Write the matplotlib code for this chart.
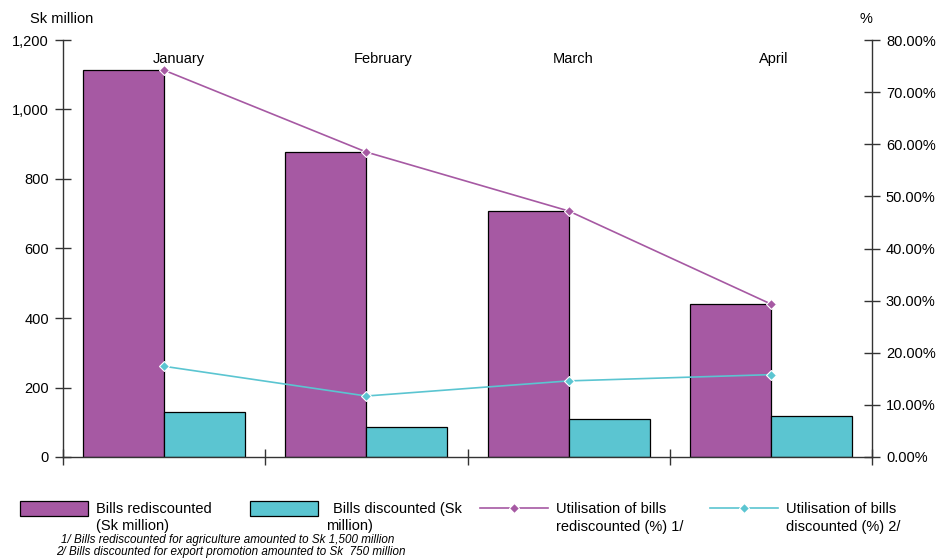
import matplotlib
matplotlib.use("Agg")
import matplotlib.pyplot as plt
from matplotlib.patches import Rectangle
from matplotlib.lines import Line2D
import numpy as np

plt.rcParams['font.family'] = ['Liberation Sans', 'DejaVu Sans']

months = ["January", "February", "March", "April"]
bills_rediscounted = [1113, 877, 708, 440]        # Sk million
bills_discounted = [130, 87, 109, 118]            # Sk million
util_rediscounted = [74.2, 58.5, 47.2, 29.35]      # %
util_discounted = [17.4, 11.7, 14.6, 15.8]         # %

left_ticks = [0, 200, 400, 600, 800, 1000, 1200]
right_ticks = [0, 10, 20, 30, 40, 50, 60, 70, 80]

purple = "#A659A3"
teal = "#5BC5D1"

fig = plt.figure(figsize=(9.39, 5.58), dpi=100)
ax = fig.add_axes([63/939, 1-457/558, (872-63)/939, (457-40)/558])
ax2 = ax.twinx()

x = np.arange(len(months))
w = 0.4
ax.bar(x + 0.3, bills_rediscounted, width=w, color=purple, edgecolor="black", linewidth=0.9, zorder=2)
ax.bar(x + 0.7, bills_discounted, width=w, color=teal, edgecolor="black", linewidth=0.9, zorder=2)

ax.set_xlim(0, 4)
ax.set_ylim(0, 1200)
ax.set_yticks(left_ticks)
ax.set_yticklabels([f"{v:,}" for v in left_ticks])
ax.set_xticks(np.arange(0, 5))
ax.set_xticklabels([])
for s in ["top", "right"]:
    ax.spines[s].set_visible(False)
for s in ["left", "bottom"]:
    ax.spines[s].set_color("#333333")
    ax.spines[s].set_linewidth(1.0)
ax.tick_params(axis="y", direction="inout", length=12, width=1, color="#333333",
               labelsize=10.5, pad=4)
ax.tick_params(axis="x", direction="inout", length=12, width=1, color="#333333")

# month names sit near the top of each category slot
label_shift = [0.075, 0.085, 0.02, 0.015]
for i, m in enumerate(months):
    ax.text(i + 0.5 + label_shift[i], 1145, m, ha="center", va="center", fontsize=10.5)

ax2.plot(x + 0.5, util_rediscounted, color=purple, linewidth=1.2, marker="D",
         markersize=5, markerfacecolor=purple, markeredgecolor="white", markeredgewidth=0.8, zorder=3)
ax2.plot(x + 0.5, util_discounted, color=teal, linewidth=1.2, marker="D",
         markersize=5, markerfacecolor=teal, markeredgecolor="white", markeredgewidth=0.8, zorder=3)
ax2.set_ylim(0, 80)
ax2.set_yticks(right_ticks)
ax2.set_yticklabels([f"{v:.2f}%" for v in right_ticks])
for s in ["top", "left", "bottom"]:
    ax2.spines[s].set_visible(False)
ax2.spines["right"].set_color("#333333")
ax2.spines["right"].set_linewidth(1.0)
ax2.tick_params(axis="y", direction="inout", length=12, width=1, color="#333333",
                labelsize=10.5, pad=4)

fig.text(30/939, 1-19/558, "Sk million", ha="left", va="center", fontsize=10.5)
fig.text(866/939, 1-19/558, "%", ha="center", va="center", fontsize=10.5)

# legend row along the bottom
W, H = 939, 558
def fx(px):
    return px / W
def fy(py):
    return 1 - py / H

fig.add_artist(Rectangle((fx(20), fy(516)), fx(68), 15/H, transform=fig.transFigure,
                         facecolor=purple, edgecolor="black", linewidth=0.9))
fig.text(fx(96), fy(509), "Bills rediscounted", ha="left", va="center", fontsize=10.5)
fig.text(fx(96), fy(526), "(Sk million)", ha="left", va="center", fontsize=10.5)

fig.add_artist(Rectangle((fx(250), fy(516)), fx(68), 15/H, transform=fig.transFigure,
                         facecolor=teal, edgecolor="black", linewidth=0.9))
fig.text(fx(333), fy(509), "Bills discounted (Sk", ha="left", va="center", fontsize=10.5)
fig.text(fx(326), fy(526), "million)", ha="left", va="center", fontsize=10.5)

for x0, col, l1, l2 in [(480, purple, "Utilisation of bills", "rediscounted (%) 1/"),
                        (710, teal, "Utilisation of bills", "discounted (%) 2/")]:
    fig.add_artist(Line2D([fx(x0), fx(x0 + 68)], [fy(508), fy(508)], transform=fig.transFigure,
                          color=col, linewidth=1.2))
    fig.add_artist(Line2D([fx(x0 + 34)], [fy(508)], transform=fig.transFigure, marker="D",
                          markersize=5, markerfacecolor=col, markeredgecolor="white",
                          markeredgewidth=0.8, linestyle="none"))
    fig.text(fx(x0 + 76), fy(509), l1, ha="left", va="center", fontsize=10.5)
    fig.text(fx(x0 + 76), fy(527), l2, ha="left", va="center", fontsize=10.5)

fig.text(fx(61), fy(540), "1/ Bills rediscounted for agriculture amounted to Sk 1,500 million",
         ha="left", va="center", fontsize=8.4, style="italic")
fig.text(fx(56), fy(552), "2/ Bills discounted for export promotion amounted to Sk  750 million",
         ha="left", va="center", fontsize=8.4, style="italic")

fig.savefig("out.png", dpi=100)
